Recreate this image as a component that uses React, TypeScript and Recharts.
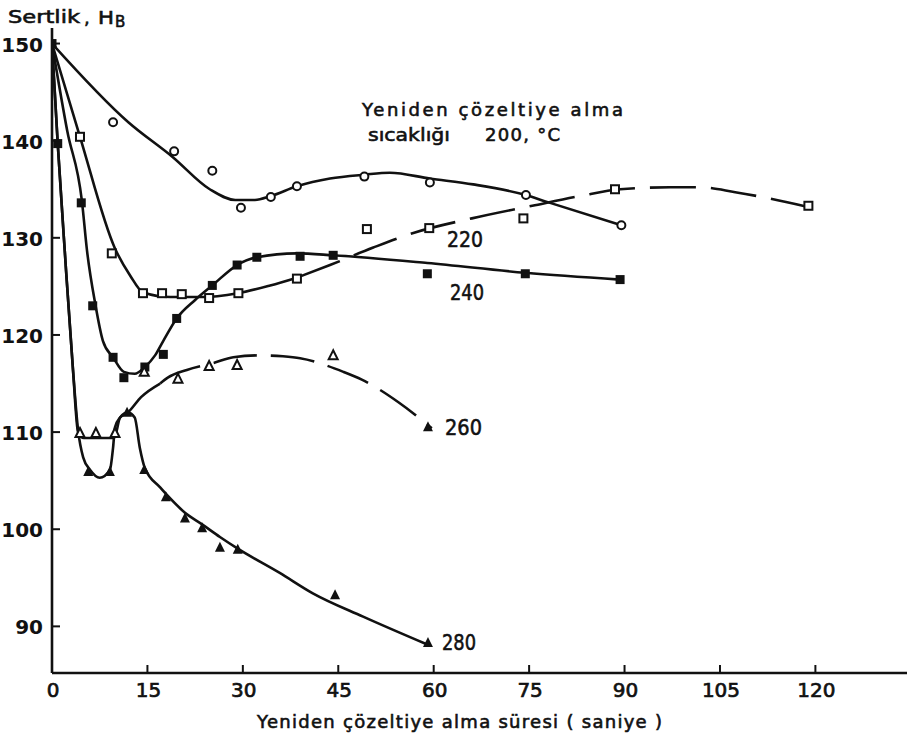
import { ComposedChart, Line, Scatter, XAxis, YAxis } from 'recharts';

// time (s) ticks and hardness (HB) ticks
const xTicks = [0, 15, 30, 45, 60, 75, 90, 105, 120];
const yTicks = [90, 100, 110, 120, 130, 140, 150];

// measured points, [time s, hardness HB]
const dots200 = [[9.6, 141.9], [19.2, 138.9], [25.2, 136.9], [29.7, 133.1], [34.4, 134.2], [38.5, 135.3], [49.1, 136.3], [59.4, 135.7], [74.5, 134.4], [89.5, 131.3]];
const dots220 = [[4.4, 140.4], [9.4, 128.4], [14.3, 124.3], [17.3, 124.3], [20.4, 124.2], [24.7, 123.8], [29.3, 124.3], [38.5, 125.8], [49.5, 130.9], [59.3, 131.0], [74.1, 132], [88.5, 135], [118.9, 133.3]];
const dots240 = [[0, 150], [0.9, 139.7], [4.6, 133.6], [6.4, 123], [9.6, 117.7], [11.3, 115.6], [14.6, 116.7], [17.5, 118], [19.6, 121.7], [25.2, 125.1], [29.1, 127.2], [32.2, 128], [39, 128.1], [44.2, 128.2], [59, 126.3], [74.4, 126.3], [89.3, 125.7]];
const dots260 = [[4.4, 109.9], [6.9, 109.9], [9.9, 109.9], [14.5, 116.2], [19.8, 115.5], [24.7, 116.8], [29.1, 116.9], [44.2, 117.9]];
const dots260End = [[59.1, 110.5]];
const dots280 = [[0, 150], [5.7, 105.9], [9.1, 105.9], [11.8, 112], [14.5, 106.1], [17.9, 103.3], [20.9, 101.1], [23.6, 100.1], [26.4, 98.1], [29.2, 97.9], [44.5, 93.2], [59.1, 88.3]];

// hand drawn curves through the points
const fit200 = [[0, 150], [12, 141.9], [19, 138.3], [24.8, 135], [28.8, 133.9], [31.9, 133.9], [34.4, 134.3], [38.5, 135.3], [43.7, 136.1], [49.1, 136.5], [53.1, 136.7], [59.4, 136.1], [66.2, 135.5], [74.5, 134.4], [77.8, 133.7], [89.5, 131.3]];
const fit220 = [[0, 150], [4.4, 140.4], [9.9, 128.9], [12.3, 126.1], [14.3, 124.4], [18.6, 123.9], [23.3, 123.9], [29.2, 124.3], [34.3, 125.1], [38.5, 125.9]];
const fit220Dash = [[38.5, 125.9], [43.7, 127.2], [50.5, 129.0], [56.8, 130.5], [66, 132], [75.5, 133.3], [83, 134.3], [89.3, 135], [97.2, 135.2], [101.9, 135.2], [107.4, 134.7], [118.7, 133.2]];
const fit240 = [[0, 150], [2.4, 141], [4.7, 133.8], [5.5, 128.7], [6.8, 123.2], [8, 119.4], [9.6, 117.7], [11.3, 116.2], [13, 116], [14.6, 116.7], [16.2, 117.9], [17.5, 119.4], [19.6, 121.7], [22.5, 123.6], [25.2, 125.1], [29.1, 127.2], [32.2, 128], [38.5, 128.4], [44.2, 128.2], [59, 127.4], [74.4, 126.4], [89.3, 125.7]];
const fit260 = [[0, 150], [0.9, 139.7], [2, 128.7], [3.3, 116.4], [4.1, 110.0], [5, 109.4], [7, 109.4], [9.8, 109.4], [10.7, 111.5], [11.9, 112], [14, 113.6], [17, 115]];
const fit260Dash = [[17, 115], [18.2, 115.6], [21.2, 116.4], [25.3, 117.1], [28.5, 117.7], [32.7, 117.9], [36.3, 117.8], [39, 117.6], [45.8, 116.2], [48.7, 115.4], [54.4, 113.1], [59.7, 110.4]];
const fit280 = [[0, 150], [0.9, 139.7], [2, 128.7], [3.3, 116.4], [4.1, 110.2], [4.9, 107.4], [6, 106.1], [7.5, 105.3], [9.1, 106.1], [9.6, 108.4], [9.9, 110.5], [10.7, 111.5], [11.9, 112], [13, 111.5], [13.8, 108.4], [14.6, 106.3], [17, 104.3], [18.1, 103.5], [20.9, 101.7], [23.6, 100.5], [26.4, 99.2], [29.2, 98], [35.8, 95.5], [41, 93.4], [48.9, 91], [59.1, 88.1]];

const pts = (a: number[][]) => a.map(([x, y]) => ({ x, y }));

const INK = '#111';
const FONT = '"DejaVu Sans", sans-serif';

const OpenCircle = ({ cx, cy }: any) => <circle cx={cx} cy={cy} r={4} fill="#fff" stroke={INK} strokeWidth={2} />;
const OpenSquare = ({ cx, cy }: any) => <rect x={cx - 4} y={cy - 4} width={8} height={8} fill="#fff" stroke={INK} strokeWidth={2} />;
const FilledSquare = ({ cx, cy }: any) => <rect x={cx - 4.5} y={cy - 4.5} width={9} height={9} fill={INK} />;
const OpenTri = ({ cx, cy }: any) => (
  <polygon points={`${cx},${cy - 5} ${cx - 4.5},${cy + 4} ${cx + 4.5},${cy + 4}`} fill="#fff" stroke={INK} strokeWidth={2} />
);
const FilledTri = ({ cx, cy }: any) => (
  <polygon points={`${cx},${cy - 6} ${cx - 5},${cy + 4} ${cx + 5},${cy + 4}`} fill={INK} />
);

const XTick = ({ x, y, payload }: any) => (
  <g>
    <line x1={x} y1={y} x2={x} y2={y - 8} stroke={INK} strokeWidth={2} />
    <text x={x + 1} y={y + 24} textAnchor="middle" fontSize={20} fontFamily={FONT} fill={INK} stroke={INK} strokeWidth={0.7}>
      {payload.value}
    </text>
  </g>
);

const YTick = ({ x, y, payload }: any) => (
  <g>
    <line x1={x} y1={y} x2={x + 8} y2={y} stroke={INK} strokeWidth={2} />
    <text x={x - 9} y={y + 8} textAnchor="end" fontSize={20} fontFamily={FONT} fontWeight="bold" fill={INK}>
      {payload.value}
    </text>
  </g>
);

export default function App() {
  const lineProps = {
    type: 'monotone' as const,
    dataKey: 'y',
    stroke: INK,
    strokeWidth: 2.6,
    dot: false,
    activeDot: false,
    isAnimationActive: false,
  };
  return (
    <div style={{ position: 'absolute', left: 0, top: 0, width: 907, height: 744, background: '#fff' }}>
      <ComposedChart width={907} height={744} margin={{ top: 28, right: 0, bottom: 0, left: 0 }}>
        <XAxis
          type="number"
          dataKey="x"
          domain={[0, 134.4]}
          ticks={xTicks}
          tick={<XTick />}
          tickLine={false}
          tickSize={0}
          tickMargin={0}
          height={71}
          axisLine={{ stroke: INK, strokeWidth: 2.6 }}
          allowDataOverflow
        />
        <YAxis
          type="number"
          dataKey="y"
          domain={[85.2, 151.6]}
          ticks={yTicks}
          tick={<YTick />}
          tickLine={false}
          tickSize={0}
          tickMargin={0}
          width={52}
          axisLine={{ stroke: INK, strokeWidth: 2.6 }}
          allowDataOverflow
        />
        <Line {...lineProps} data={pts(fit200)} />
        <Line {...lineProps} data={pts(fit220)} />
        <Line {...lineProps} data={pts(fit220Dash)} strokeDasharray="46 15" />
        <Line {...lineProps} data={pts(fit240)} />
        <Line {...lineProps} data={pts(fit260)} />
        <Line {...lineProps} data={pts(fit260Dash)} strokeDasharray="44 14" />
        <Line {...lineProps} data={pts(fit280)} />
        <Scatter data={pts(dots200)} dataKey="y" shape={<OpenCircle />} isAnimationActive={false} />
        <Scatter data={pts(dots220)} dataKey="y" shape={<OpenSquare />} isAnimationActive={false} />
        <Scatter data={pts(dots240)} dataKey="y" shape={<FilledSquare />} isAnimationActive={false} />
        <Scatter data={pts(dots260)} dataKey="y" shape={<OpenTri />} isAnimationActive={false} />
        <Scatter data={pts(dots260End)} dataKey="y" shape={<FilledTri />} isAnimationActive={false} />
        <Scatter data={pts(dots280)} dataKey="y" shape={<FilledTri />} isAnimationActive={false} />
      </ComposedChart>
      <svg width={907} height={744} style={{ position: 'absolute', left: 0, top: 0, pointerEvents: 'none' }}>
        <g fontFamily={FONT} fill={INK} stroke={INK} strokeWidth={0.6}>
          <text x={8} y={23} fontSize={18} textLength={72} lengthAdjust="spacingAndGlyphs">Sertlik</text>
          <text x={84} y={24} fontSize={18}>,</text>
          <text x={98} y={24} fontSize={18} textLength={16} lengthAdjust="spacingAndGlyphs">H</text>
          <text x={115} y={27} fontSize={15}>B</text>
          <text x={362} y={116} fontSize={18} textLength={261} lengthAdjust="spacing">Yeniden çözeltiye alma</text>
          <text x={368} y={141} fontSize={18} textLength={82} lengthAdjust="spacingAndGlyphs">sıcaklığı</text>
          <text x={485} y={141} fontSize={18} textLength={75} lengthAdjust="spacing">200, °C</text>
          <text x={447} y={247} fontSize={22} textLength={36} lengthAdjust="spacingAndGlyphs">220</text>
          <text x={450} y={300} fontSize={22} textLength={34} lengthAdjust="spacingAndGlyphs">240</text>
          <text x={445} y={435} fontSize={22} textLength={37} lengthAdjust="spacingAndGlyphs">260</text>
          <text x={442} y={650} fontSize={22} textLength={34} lengthAdjust="spacingAndGlyphs">280</text>
          <text x={257} y={728} fontSize={18} textLength={405} lengthAdjust="spacing">Yeniden  çözeltiye  alma  süresi  ( saniye )</text>
        </g>
      </svg>
    </div>
  );
}
